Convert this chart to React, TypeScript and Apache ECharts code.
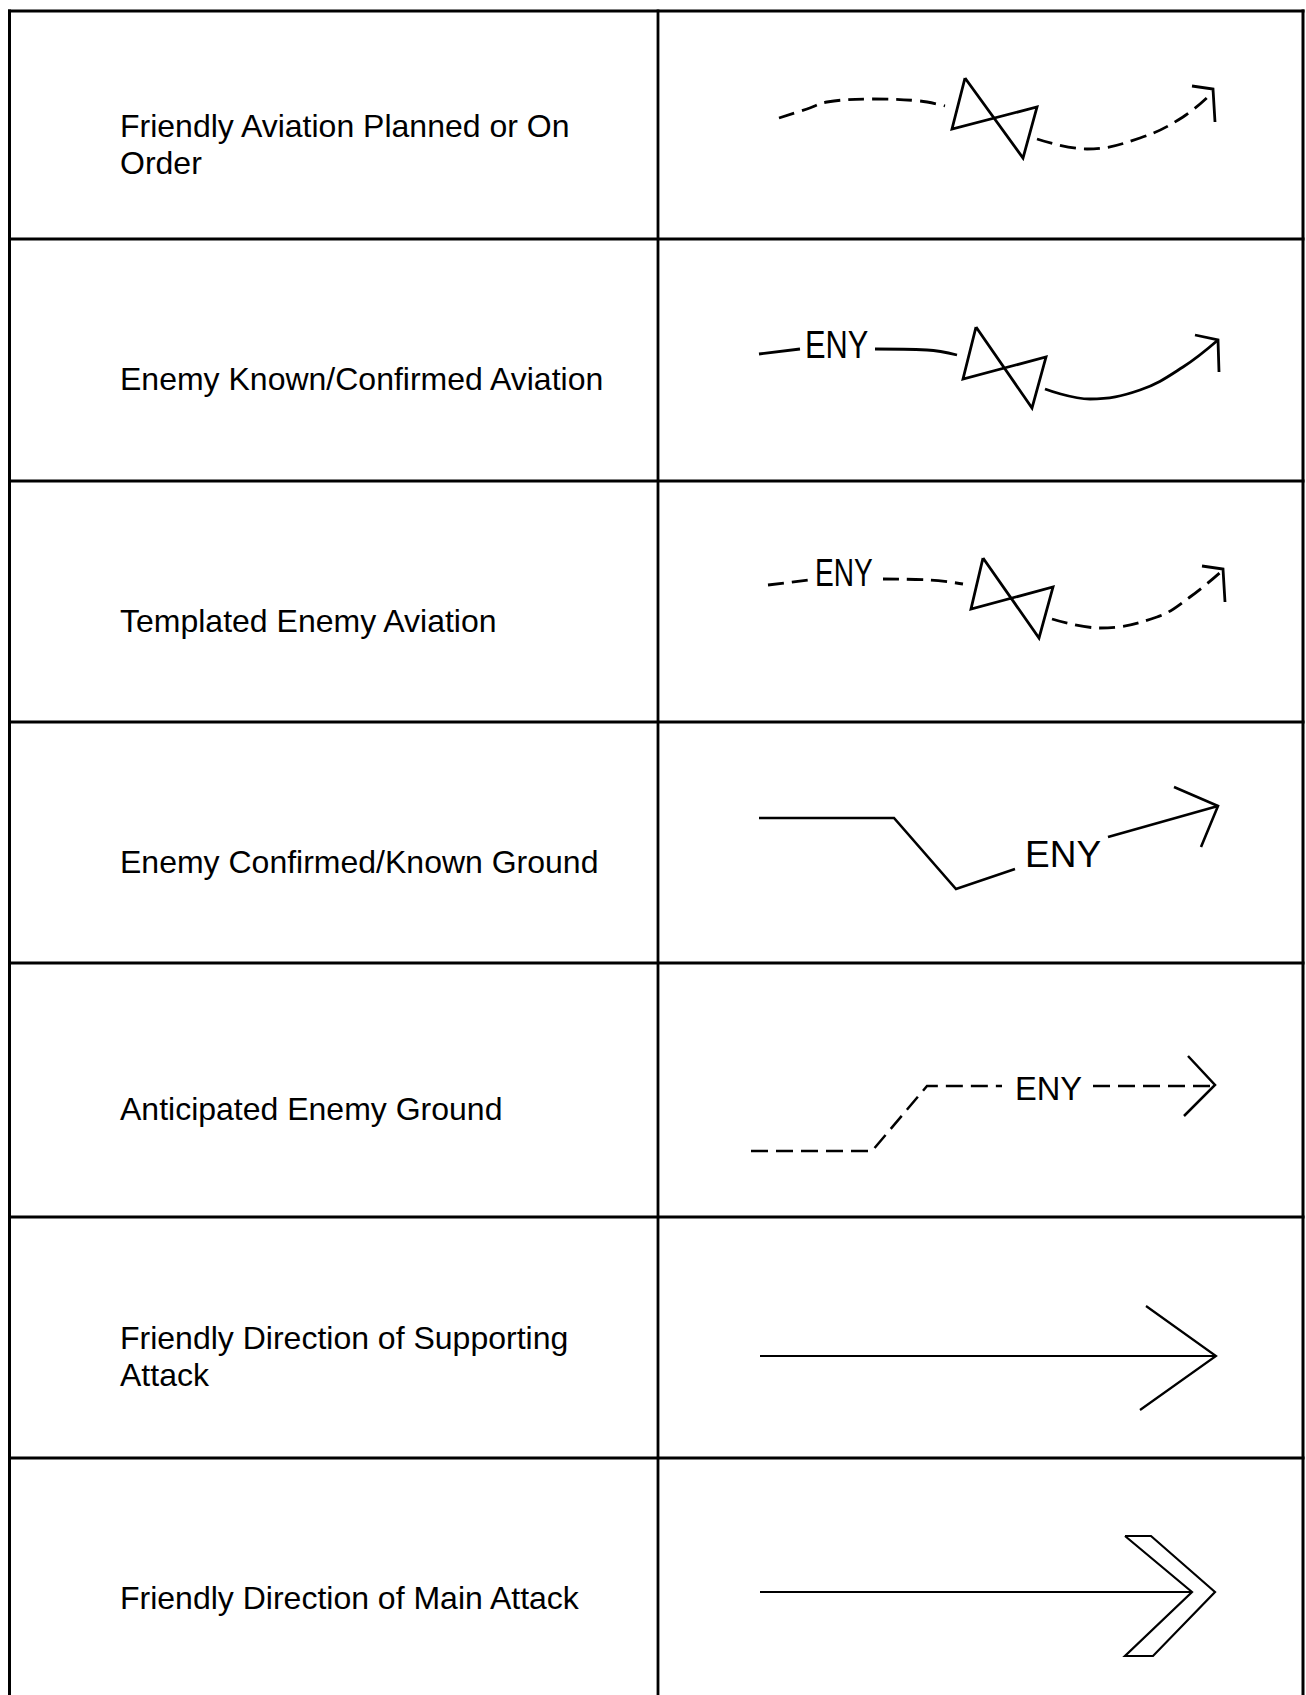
import React, { useEffect, useRef } from "react";
import * as echarts from "echarts";

// ---- Table content ----
const descriptions: string[] = [
  "Friendly Aviation Planned or On\nOrder",
  "Enemy Known/Confirmed Aviation",
  "Templated Enemy Aviation",
  "Enemy Confirmed/Known Ground",
  "Anticipated Enemy Ground",
  "Friendly Direction of Supporting\nAttack",
  "Friendly Direction of Main Attack",
];
const descriptionCenterY: number[] = [144.5, 379, 620.5, 862, 1109, 1356.5, 1598];
const rowLines: number[] = [11, 239, 481, 722, 963, 1217, 1458];
const enyLabel = "ENY";

// ---- Symbol geometry (page pixel coordinates) ----
// Row 1: Friendly aviation planned (dashed)
const r1Left: number[][] = [[779, 118], [807, 109], [827, 102], [873, 99], [920, 101], [945, 106]];
const r1Bow: number[][] = [[965, 78], [1023, 158], [1037, 107], [952, 129], [965, 78]];
const r1Right: number[][] = [[1037, 139], [1087, 149], [1140, 138], [1183, 117], [1213, 92]];
const r1Head: number[][] = [[1192, 86], [1213, 89], [1215, 122]];
// Row 2: Enemy known aviation (solid)
const r2LeftA: number[][] = [[759, 354], [800, 349]];
const r2LeftB: number[][] = [[875, 349], [927, 350], [957, 355]];
const r2Bow: number[][] = [[976, 327], [1032, 408], [1046, 357], [963, 379], [976, 327]];
const r2Right: number[][] = [[1045, 389], [1090, 399], [1140, 390], [1183, 367], [1218, 340]];
const r2Head: number[][] = [[1195, 335], [1218, 340], [1219, 372]];
// Row 3: Templated enemy aviation (dashed)
const r3LeftA: number[][] = [[768, 585], [808, 580]];
const r3LeftB: number[][] = [[883, 579], [930, 580], [963, 584]];
const r3Bow: number[][] = [[983, 558], [1039, 638], [1053, 587], [971, 609], [983, 558]];
const r3Right: number[][] = [[1052, 619], [1100, 628], [1157, 617], [1190, 597], [1223, 570]];
const r3Head: number[][] = [[1202, 566], [1223, 569], [1225, 602]];
// Row 4: Enemy confirmed ground
const r4Path: number[][] = [[759, 818], [894, 818], [956, 889], [1015, 869]];
const r4Tail: number[][] = [[1108, 837], [1218, 806]];
const r4Head: number[][] = [[1174, 787], [1218, 806], [1201, 847]];
// Row 5: Anticipated enemy ground (dashed)
const r5Path: number[][] = [[751, 1151], [872, 1151], [927, 1086], [1002, 1086]];
const r5Tail: number[][] = [[1093, 1086], [1213, 1086]];
const r5Head: number[][] = [[1188, 1056], [1215, 1085], [1184, 1116]];
// Row 6: Supporting attack
const r6Shaft: number[][] = [[760, 1356], [1216, 1356]];
const r6Head: number[][] = [[1146, 1306], [1216, 1356], [1140, 1410]];
// Row 7: Main attack
const r7Shaft: number[][] = [[760, 1592], [1192, 1592]];
const r7Head: number[][] = [[1125, 1536], [1151, 1536], [1215, 1592], [1153, 1656], [1125, 1656], [1192, 1592], [1125, 1536]];

const W = 1306;
const H = 1695;
const FONT = "'Liberation Sans', Arial, Helvetica, sans-serif";

function lineSeries(data: number[][], opts: { dash?: number[]; smooth?: number | boolean; width?: number } = {}) {
  return {
    type: "line",
    data,
    symbol: "none",
    showSymbol: false,
    silent: true,
    clip: false,
    smooth: opts.smooth ?? false,
    lineStyle: {
      color: "#000",
      width: opts.width ?? 2.8,
      type: opts.dash ?? "solid",
      cap: "butt",
      join: "miter",
    },
  };
}

export default function App() {
  const ref = useRef<HTMLDivElement>(null);

  useEffect(() => {
    document.body.style.margin = "0";
    if (!ref.current) return;
    const chart = echarts.init(ref.current, undefined, { renderer: "svg" });

    const dash1 = [16, 8];
    const dash5 = [17, 8];

    const series: any[] = [
      lineSeries(r1Left, { dash: dash1, smooth: 0.4 }),
      lineSeries(r1Bow),
      lineSeries(r1Right, { dash: dash1, smooth: 0.4 }),
      lineSeries(r1Head),
      lineSeries(r2LeftA),
      lineSeries(r2LeftB, { smooth: 0.4 }),
      lineSeries(r2Bow),
      lineSeries(r2Right, { smooth: 0.4 }),
      lineSeries(r2Head),
      lineSeries(r3LeftA, { dash: dash1 }),
      lineSeries(r3LeftB, { dash: dash1, smooth: 0.4 }),
      lineSeries(r3Bow),
      lineSeries(r3Right, { dash: dash1, smooth: 0.4 }),
      lineSeries(r3Head),
      lineSeries(r4Path, { width: 2.6 }),
      lineSeries(r4Tail, { width: 2.6 }),
      lineSeries(r4Head, { width: 2.6 }),
      lineSeries(r5Path, { dash: dash5, width: 2.5 }),
      lineSeries(r5Tail, { dash: dash5, width: 2.5 }),
      lineSeries(r5Head, { width: 2.5 }),
      lineSeries(r6Shaft, { width: 2.2 }),
      lineSeries(r6Head, { width: 2.2 }),
      lineSeries(r7Shaft, { width: 2.2 }),
      lineSeries(r7Head, { width: 2.2 }),
    ];

    const graphics: any[] = [];
    // table lines
    const vLines = [
      { x: 9.5, w: 3 },
      { x: 658, w: 2.8 },
      { x: 1303, w: 3 },
    ];
    vLines.forEach((v) =>
      graphics.push({
        type: "line",
        silent: true,
        shape: { x1: v.x, y1: rowLines[0] - 1.5, x2: v.x, y2: H },
        style: { stroke: "#000", lineWidth: v.w },
      })
    );
    rowLines.forEach((y) =>
      graphics.push({
        type: "line",
        silent: true,
        shape: { x1: 8, y1: y, x2: 1304.5, y2: y },
        style: { stroke: "#000", lineWidth: 3.2 },
      })
    );
    // descriptions
    descriptions.forEach((t, i) =>
      graphics.push({
        type: "text",
        silent: true,
        x: 120,
        y: descriptionCenterY[i],
        style: {
          text: t,
          fill: "#000",
          fontSize: 32,
          fontFamily: FONT,
          lineHeight: 37,
          align: "left",
          verticalAlign: "middle",
        },
      })
    );
    // ENY labels
    const enyPlacements = [
      { x: 805, y: 344, size: 39, sx: 0.79 },
      { x: 815, y: 573, size: 38, sx: 0.74 },
      { x: 1025, y: 854, size: 37, sx: 1 },
      { x: 1015, y: 1088, size: 34, sx: 0.96 },
    ];
    enyPlacements.forEach((p) =>
      graphics.push({
        type: "text",
        silent: true,
        x: p.x,
        y: p.y,
        scaleX: p.sx,
        style: {
          text: enyLabel,
          fill: "#000",
          fontSize: p.size,
          fontFamily: FONT,
          align: "left",
          verticalAlign: "middle",
        },
      })
    );

    chart.setOption({
      animation: false,
      backgroundColor: "#fff",
      grid: { left: 0, top: 0, right: 0, bottom: 0, containLabel: false },
      xAxis: { type: "value", min: 0, max: W, show: false },
      yAxis: { type: "value", min: 0, max: H, inverse: true, show: false },
      tooltip: { show: false },
      series,
      graphic: graphics,
    });

    return () => {
      chart.dispose();
    };
  }, []);

  return <div ref={ref} style={{ width: W, height: H }} />;
}
